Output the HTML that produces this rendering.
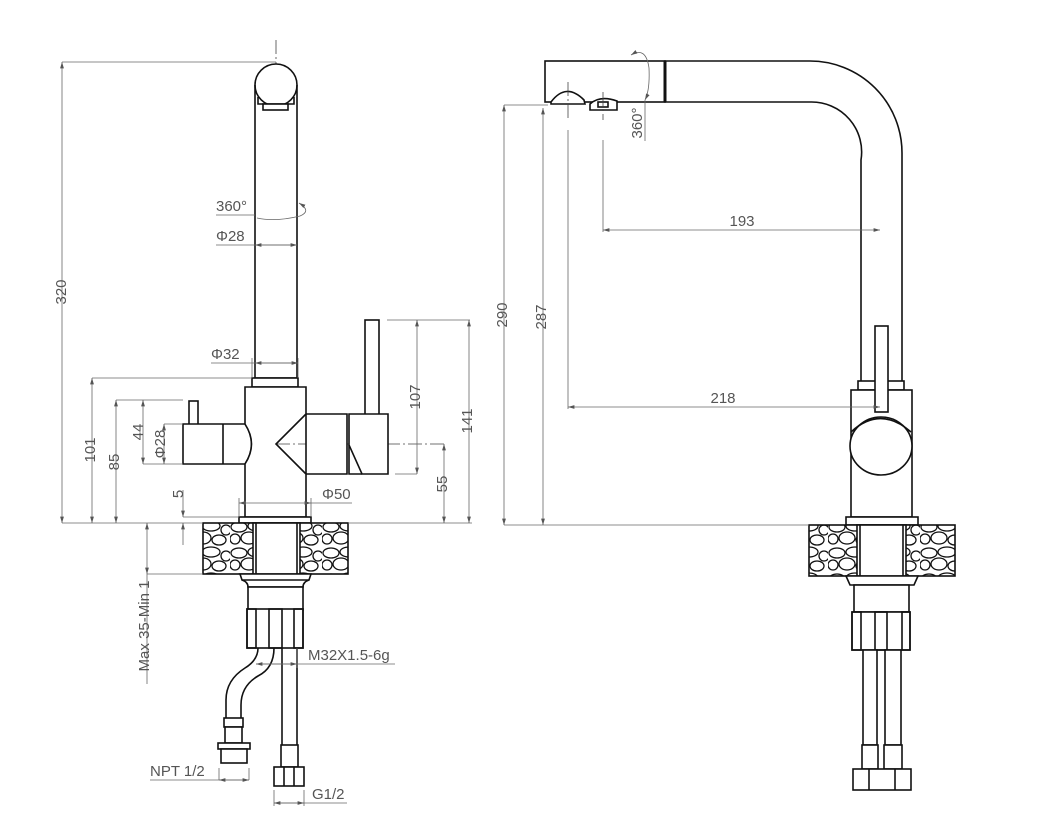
<!DOCTYPE html>
<html><head><meta charset="utf-8"><style>
html,body{margin:0;padding:0;background:#fff;}
svg{display:block;}
text{font-family:"Liberation Sans",sans-serif;font-size:15px;fill:#555;}
.o{fill:none;stroke:#111;stroke-width:1.6;}
.w{fill:#fff;stroke:#111;stroke-width:1.6;}
.d{fill:none;stroke:#666;stroke-width:0.8;}
.c{fill:none;stroke:#444;stroke-width:0.8;stroke-dasharray:14 3 2 3;}
</style></head><body>
<svg width="1041" height="829" viewBox="0 0 1041 829" xmlns="http://www.w3.org/2000/svg">
<defs>
<marker id="a" viewBox="0 0 10 10" refX="10" refY="5" markerWidth="8" markerHeight="8" orient="auto-start-reverse"><path d="M0,2 L10,5 L0,8 z" fill="#555"/></marker>
<pattern id="st" width="46" height="26" patternUnits="userSpaceOnUse">
<rect width="46" height="26" fill="#fff"/>
<g fill="none" stroke="#111" stroke-width="1.3">
<ellipse cx="9" cy="7" rx="8" ry="5"/><ellipse cx="27" cy="6" rx="9" ry="5"/><ellipse cx="42" cy="10" rx="5" ry="5"/>
<ellipse cx="5" cy="19" rx="5" ry="5"/><ellipse cx="19" cy="18" rx="8" ry="6"/><ellipse cx="35" cy="20" rx="7" ry="5"/>
</g></pattern>
</defs>

<!-- ===== LEFT VIEW ===== -->
<line class="c" x1="276" y1="40" x2="276" y2="530"/>
<line class="c" x1="210" y1="444" x2="444" y2="444"/>
<path class="w" d="M255,85 A21,21 0 0 1 297,85 L297,378 L255,378 Z"/>
<path class="o" d="M255,85 A21,21 0 0 0 297,85"/>
<path class="o" d="M258,97 L258,104 L294,104 L294,97"/>
<rect class="w" x="263" y="104" width="25" height="6"/>
<rect class="w" x="252" y="378" width="46" height="9"/>
<rect class="w" x="365" y="320" width="14" height="95"/>
<path class="w" d="M306,414 L347,414 L347,474 L306,474 Z"/>
<path class="w" d="M349,414 L388,414 L388,474 L362,474 L349,445 Z"/>
<path class="o" d="M349,445 L349,474 L362,474"/>
<rect class="w" x="189" y="401" width="9" height="24"/>
<path class="w" d="M183,424 L245,424 Q258,444 245,464 L183,464 Z"/>
<line class="o" x1="223" y1="424" x2="223" y2="464"/>
<path class="w" d="M245,387 L306,387 L306,414 L276,444 L306,474 L306,517 L245,517 L245,464 Q258,444 245,424 Z"/>
<rect class="w" x="239" y="517" width="72" height="6"/>
<rect x="203" y="523" width="145" height="51" fill="url(#st)" stroke="#111" stroke-width="1.6"/>
<rect class="w" x="253" y="523" width="47" height="51"/>
<line class="o" x1="256" y1="523" x2="256" y2="574"/><line class="o" x1="297" y1="523" x2="297" y2="574"/>
<path class="w" d="M240,574 L311,574 L309,580 L242,580 Z"/>
<path class="o" d="M242,580 Q248,582 248,587 L303,587 Q303,582 309,580"/>
<rect class="w" x="248" y="587" width="55" height="23"/>
<rect class="w" x="247" y="609" width="56" height="39"/>
<rect class="o" x="247" y="609" width="9" height="39"/><rect class="o" x="269" y="609" width="13" height="39"/><rect class="o" x="294" y="609" width="9" height="39"/>
<path class="o" d="M258,648 Q258,660 245,668 Q226,680 226,700 L226,718"/>
<path class="o" d="M274,648 Q274,668 258,676 Q241,686 241,705 L241,718"/>
<rect class="w" x="224" y="718" width="19" height="9"/><rect class="w" x="225" y="727" width="17" height="16"/>
<rect class="w" x="218" y="743" width="32" height="6"/><rect class="w" x="221" y="749" width="26" height="14"/>
<line class="o" x1="282" y1="648" x2="282" y2="745"/><line class="o" x1="297" y1="648" x2="297" y2="745"/>
<rect class="w" x="281" y="745" width="17" height="22"/>
<rect class="w" x="274" y="767" width="30" height="19"/>
<line class="o" x1="284" y1="767" x2="284" y2="786"/><line class="o" x1="294" y1="767" x2="294" y2="786"/>

<line class="d" x1="62" y1="62" x2="276" y2="62"/>
<line class="d" x1="62" y1="523" x2="203" y2="523"/><line class="d" x1="348" y1="523" x2="472" y2="523"/>
<line class="d" x1="62" y1="62" x2="62" y2="523" marker-start="url(#a)" marker-end="url(#a)"/>
<text transform="translate(66,292) rotate(-90)" text-anchor="middle">320</text>
<line class="d" x1="92" y1="378" x2="252" y2="378"/>
<line class="d" x1="92" y1="378" x2="92" y2="523" marker-start="url(#a)" marker-end="url(#a)"/>
<text transform="translate(95,450) rotate(-90)" text-anchor="middle">101</text>
<line class="d" x1="116" y1="400" x2="183" y2="400"/>
<line class="d" x1="116" y1="400" x2="116" y2="523" marker-start="url(#a)" marker-end="url(#a)"/>
<text transform="translate(119,462) rotate(-90)" text-anchor="middle">85</text>
<line class="d" x1="143" y1="400" x2="143" y2="464" marker-start="url(#a)" marker-end="url(#a)"/>
<line class="d" x1="143" y1="464" x2="183" y2="464"/>
<text transform="translate(143,432) rotate(-90)" text-anchor="middle">44</text>
<line class="d" x1="164" y1="424" x2="183" y2="424"/>
<line class="d" x1="164" y1="424" x2="164" y2="464" marker-start="url(#a)" marker-end="url(#a)"/>
<text transform="translate(165,444) rotate(-90)" text-anchor="middle">Φ28</text>
<line class="d" x1="183" y1="490" x2="183" y2="517" marker-end="url(#a)"/>
<line class="d" x1="183" y1="517" x2="239" y2="517"/>
<line class="d" x1="183" y1="545" x2="183" y2="523" marker-end="url(#a)"/>
<text transform="translate(183,494) rotate(-90)" text-anchor="middle">5</text>
<line class="d" x1="239" y1="503" x2="311" y2="503" marker-start="url(#a)" marker-end="url(#a)"/>
<line class="d" x1="239" y1="498" x2="239" y2="517"/><line class="d" x1="311" y1="498" x2="311" y2="517"/>
<line class="d" x1="311" y1="503" x2="352" y2="503"/>
<text x="322" y="499">Φ50</text>
<line class="d" x1="211" y1="363" x2="298" y2="363"/>
<line class="d" x1="255" y1="363" x2="298" y2="363" marker-start="url(#a)" marker-end="url(#a)"/>
<line class="d" x1="252" y1="358" x2="252" y2="378"/><line class="d" x1="298" y1="358" x2="298" y2="378"/>
<text x="211" y="359">Φ32</text>
<line class="d" x1="216" y1="245" x2="297" y2="245"/>
<line class="d" x1="255" y1="245" x2="297" y2="245" marker-start="url(#a)" marker-end="url(#a)"/>
<text x="216" y="241">Φ28</text>
<line class="d" x1="216" y1="215" x2="255" y2="215"/>
<text x="216" y="211">360°</text>
<path class="d" d="M257,218 Q276,222 300,216 Q312,211 299,203" marker-end="url(#a)"/>
<line class="d" x1="387" y1="320" x2="470" y2="320"/>
<line class="d" x1="395" y1="474" x2="417" y2="474"/>
<line class="d" x1="417" y1="320" x2="417" y2="474" marker-start="url(#a)" marker-end="url(#a)"/>
<text transform="translate(420,397) rotate(-90)" text-anchor="middle">107</text>
<line class="d" x1="469" y1="320" x2="469" y2="523" marker-start="url(#a)" marker-end="url(#a)"/>
<text transform="translate(472,421) rotate(-90)" text-anchor="middle">141</text>
<line class="d" x1="444" y1="444" x2="444" y2="523" marker-start="url(#a)" marker-end="url(#a)"/>
<text transform="translate(447,484) rotate(-90)" text-anchor="middle">55</text>
<line class="d" x1="147" y1="574" x2="203" y2="574"/>
<line class="d" x1="147" y1="523" x2="147" y2="574" marker-start="url(#a)" marker-end="url(#a)"/>
<line class="d" x1="147" y1="574" x2="147" y2="684"/>
<text transform="translate(149,626) rotate(-90)" text-anchor="middle">Max 35-Min 1</text>
<line class="d" x1="256" y1="664" x2="395" y2="664"/>
<line class="d" x1="256" y1="664" x2="297" y2="664" marker-start="url(#a)" marker-end="url(#a)"/>
<line class="d" x1="297" y1="648" x2="297" y2="668"/>
<text x="308" y="660">M32X1.5-6g</text>
<line class="d" x1="150" y1="780" x2="249" y2="780"/>
<line class="d" x1="219" y1="780" x2="249" y2="780" marker-start="url(#a)" marker-end="url(#a)"/>
<line class="d" x1="219" y1="768" x2="219" y2="780"/><line class="d" x1="249" y1="768" x2="249" y2="780"/>
<text x="150" y="776">NPT 1/2</text>
<line class="d" x1="274" y1="803" x2="347" y2="803"/>
<line class="d" x1="274" y1="803" x2="304" y2="803" marker-start="url(#a)" marker-end="url(#a)"/>
<line class="d" x1="274" y1="790" x2="274" y2="806"/><line class="d" x1="304" y1="790" x2="304" y2="806"/>
<text x="312" y="799">G1/2</text>

<!-- ===== RIGHT VIEW ===== -->
<line class="c" x1="880" y1="170" x2="880" y2="525"/>
<path class="w" d="M665,61 L810,61 A92,92 0 0 1 902,153 L902,390 L861,390 L861,160 A50,50 0 0 0 811,102 L665,102 Z"/>
<rect class="w" x="545" y="61" width="120" height="41"/>
<line x1="665" y1="61" x2="665" y2="102" stroke="#111" stroke-width="3"/>
<path class="w" d="M551,102 Q566,82 584,100 L585,104 L551,104 Z"/>
<path class="w" d="M590,104 Q600,95 617,101 L617,110 L590,110 Z"/>
<rect class="o" x="598" y="102" width="10" height="5"/>
<line class="c" x1="568" y1="82" x2="568" y2="120"/><line class="c" x1="603" y1="92" x2="603" y2="120"/>
<path class="d" d="M631,55 Q646,46 649,68 Q650,90 645,100" marker-start="url(#a)" marker-end="url(#a)"/>
<line class="d" x1="645" y1="100" x2="645" y2="141"/>
<text transform="translate(642,123) rotate(-90)" text-anchor="middle">360°</text>
<rect class="w" x="858" y="381" width="46" height="9"/>
<rect class="w" x="851" y="390" width="61" height="127"/>
<rect class="w" x="875" y="326" width="13" height="86"/>
<ellipse class="w" cx="881" cy="446" rx="31" ry="29"/>
<path class="o" d="M851,432 Q880,405 911,432"/>
<rect class="w" x="846" y="517" width="72" height="8"/>
<rect x="809" y="525" width="146" height="51" fill="url(#st)" stroke="#111" stroke-width="1.6"/>
<rect class="w" x="857" y="525" width="49" height="51"/>
<line class="o" x1="860" y1="525" x2="860" y2="576"/><line class="o" x1="903" y1="525" x2="903" y2="576"/>
<path class="w" d="M846,576 L918,576 L914,585 L850,585 Z"/>
<rect class="w" x="854" y="585" width="55" height="27"/>
<rect class="w" x="852" y="612" width="58" height="38"/>
<rect class="o" x="852" y="612" width="9" height="38"/><rect class="o" x="875" y="612" width="12" height="38"/><rect class="o" x="902" y="612" width="8" height="38"/>
<rect class="w" x="863" y="650" width="14" height="95"/><rect class="w" x="885" y="650" width="16" height="95"/>
<rect class="w" x="862" y="745" width="16" height="24"/><rect class="w" x="884" y="745" width="18" height="24"/>
<rect class="w" x="853" y="769" width="58" height="21"/>
<line class="o" x1="869" y1="769" x2="869" y2="790"/><line class="o" x1="895" y1="769" x2="895" y2="790"/>
<line class="d" x1="504" y1="105" x2="548" y2="105"/>
<line class="d" x1="504" y1="525" x2="809" y2="525"/>
<line class="d" x1="504" y1="105" x2="504" y2="525" marker-start="url(#a)" marker-end="url(#a)"/>
<text transform="translate(507,315) rotate(-90)" text-anchor="middle">290</text>
<line class="d" x1="543" y1="108" x2="543" y2="525" marker-start="url(#a)" marker-end="url(#a)"/>
<text transform="translate(546,317) rotate(-90)" text-anchor="middle">287</text>
<line class="d" x1="603" y1="140" x2="603" y2="232"/>
<line class="d" x1="603" y1="230" x2="880" y2="230" marker-start="url(#a)" marker-end="url(#a)"/>
<text x="742" y="226" text-anchor="middle">193</text>
<line class="d" x1="568" y1="130" x2="568" y2="409"/>
<line class="d" x1="568" y1="407" x2="880" y2="407" marker-start="url(#a)" marker-end="url(#a)"/>
<text x="723" y="403" text-anchor="middle">218</text>
</svg>
</body></html>
